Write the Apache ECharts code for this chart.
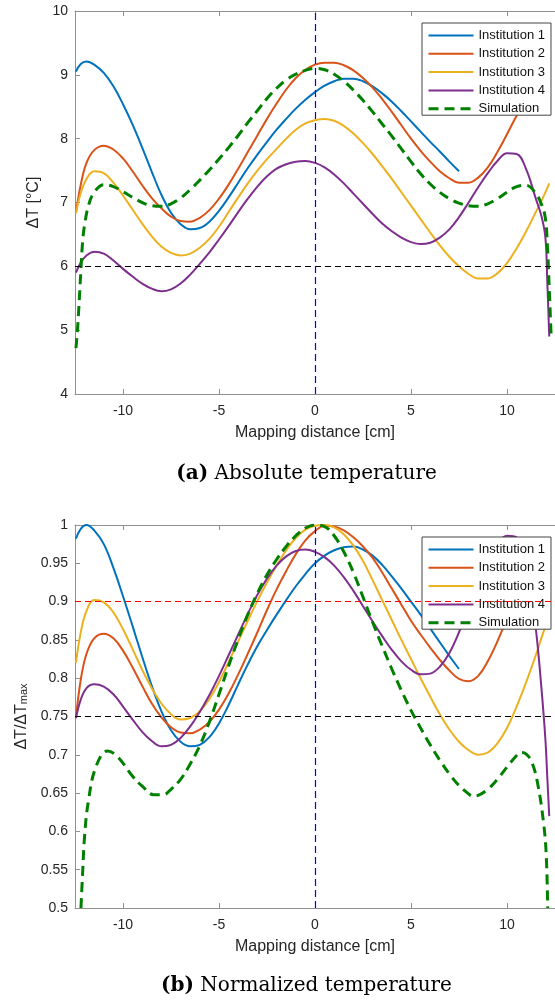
<!DOCTYPE html>
<html>
<head>
<meta charset="utf-8">
<title>Temperature mapping</title>
<script src="https://cdn.jsdelivr.net/npm/echarts@6/dist/echarts.min.js"></script>
<style>
  html, body { margin: 0; padding: 0; background: #fff; }
  #chart { width: 555px; height: 1000px; }
</style>
</head>
<body>
<div id="chart"></div>
<script>
var xInst = [-12.45, -12.2, -11.9, -11.5, -11, -10.5, -10, -9.5, -9, -8.5, -8, -7.5, -7, -6.5, -6, -5.5, -5, -4.5, -4, -3.5,
  -3, -2.5, -2, -1.5, -1, -0.5, 0, 0.5, 1, 1.5, 2, 2.5, 3, 3.5, 4, 4.5, 5, 5.5, 6, 6.5,
  7, 7.5, 8, 8.5, 9, 9.5, 10, 10.5, 11, 11.5, 11.8, 12, 12.1, 12.2];

// (a) absolute temperature, degC
var inst1Abs = [9.05, 9.17, 9.21, 9.16, 9.03, 8.82, 8.54, 8.22, 7.86, 7.48, 7.12, 6.84, 6.66, 6.58, 6.60, 6.70, 6.87, 7.08, 7.31, 7.54,
  7.75, 7.95, 8.14, 8.31, 8.47, 8.61, 8.73, 8.83, 8.90, 8.94, 8.94, 8.90, 8.82, 8.71, 8.58, 8.43, 8.27, 8.11, 7.95, 7.80,
  7.64, 7.49];
var inst2Abs = [6.84, 7.28, 7.62, 7.82, 7.89, 7.83, 7.69, 7.49, 7.27, 7.07, 6.91, 6.78, 6.71, 6.70, 6.76, 6.88, 7.06, 7.28, 7.53, 7.79,
  8.05, 8.31, 8.55, 8.77, 8.95, 9.08, 9.16, 9.19, 9.19, 9.15, 9.07, 8.95, 8.80, 8.62, 8.42, 8.21, 8.00, 7.81, 7.64, 7.49,
  7.38, 7.31, 7.31, 7.39, 7.55, 7.79, 8.07, 8.36, 8.61, 8.78, 8.83, 8.82, 8.80, 8.78];
var inst3Abs = [6.83, 7.15, 7.37, 7.49, 7.46, 7.31, 7.11, 6.89, 6.67, 6.47, 6.31, 6.21, 6.17, 6.20, 6.29, 6.43, 6.62, 6.85, 7.08, 7.30,
  7.50, 7.68, 7.84, 8.00, 8.14, 8.24, 8.29, 8.31, 8.28, 8.20, 8.08, 7.93, 7.76, 7.57, 7.37, 7.16, 6.95, 6.74, 6.53, 6.33,
  6.15, 6.00, 5.88, 5.81, 5.81, 5.89, 6.05, 6.28, 6.55, 6.85, 7.03, 7.16, 7.23, 7.30];
var inst4Abs = [5.90, 6.06, 6.17, 6.23, 6.20, 6.09, 5.96, 5.84, 5.73, 5.65, 5.61, 5.64, 5.73, 5.87, 6.04, 6.22, 6.42, 6.63, 6.85, 7.06,
  7.25, 7.41, 7.53, 7.60, 7.64, 7.65, 7.62, 7.55, 7.44, 7.30, 7.14, 6.98, 6.82, 6.67, 6.55, 6.45, 6.38, 6.35, 6.37, 6.45,
  6.58, 6.77, 7.00, 7.24, 7.46, 7.65, 7.77, 7.76, 7.52, 7.06, 6.78, 6.45, 5.75, 4.90];

var xSimAbs = [-12.45, -12.35, -12.2, -12.1, -12.0, -11.8, -11.5, -11, -10.5, -10, -9.5, -9, -8.5, -8, -7.5, -7, -6.5, -6, -5.5, -5,
  -4.5, -4, -3.5, -3, -2.5, -2, -1.5, -1, -0.5, 0, 0.5, 1, 1.5, 2, 2.5, 3, 3.5, 4, 4.5, 5,
  5.5, 6, 6.5, 7, 7.5, 8, 8.5, 9, 9.5, 10, 10.5, 11, 11.5, 11.8, 12.0, 12.1, 12.2, 12.3];
var simAbs = [4.72, 5.10, 5.90, 6.40, 6.65, 6.95, 7.16, 7.28, 7.25, 7.17, 7.08, 7.00, 6.95, 6.94, 6.98, 7.07, 7.20, 7.35, 7.51, 7.68,
  7.86, 8.05, 8.25, 8.44, 8.63, 8.79, 8.92, 9.01, 9.07, 9.10, 9.08, 9.01, 8.90, 8.76, 8.60, 8.42, 8.23, 8.04, 7.84, 7.64,
  7.45, 7.29, 7.16, 7.06, 6.99, 6.95, 6.94, 6.98, 7.06, 7.16, 7.25, 7.27, 7.14, 6.97, 6.75, 6.35, 5.65, 4.90];

// (b) normalized temperature
var inst1Norm = [0.982, 0.995, 1.000, 0.993, 0.975, 0.944, 0.907, 0.868, 0.828, 0.790, 0.757, 0.732, 0.717, 0.711, 0.713, 0.723, 0.741, 0.765, 0.792, 0.818,
  0.842, 0.863, 0.883, 0.902, 0.920, 0.936, 0.950, 0.960, 0.967, 0.971, 0.972, 0.968, 0.960, 0.948, 0.933, 0.917, 0.900, 0.883, 0.865, 0.847,
  0.829, 0.812];
var inst2Norm = [0.748, 0.798, 0.832, 0.852, 0.858, 0.852, 0.836, 0.814, 0.790, 0.767, 0.749, 0.736, 0.729, 0.728, 0.733, 0.743, 0.759, 0.780, 0.805, 0.832,
  0.860, 0.889, 0.916, 0.940, 0.962, 0.980, 0.992, 0.999, 0.998, 0.993, 0.984, 0.972, 0.957, 0.938, 0.917, 0.896, 0.875, 0.857, 0.840, 0.824,
  0.810, 0.799, 0.796, 0.803, 0.822, 0.848, 0.878, 0.908, 0.936, 0.955, 0.961, 0.960, 0.958, 0.955];
var inst3Norm = [0.820, 0.860, 0.888, 0.902, 0.899, 0.886, 0.864, 0.838, 0.811, 0.787, 0.767, 0.753, 0.746, 0.748, 0.757, 0.773, 0.795, 0.821, 0.848, 0.875,
  0.901, 0.925, 0.947, 0.967, 0.983, 0.994, 0.999, 1.000, 0.997, 0.988, 0.973, 0.953, 0.928, 0.902, 0.876, 0.850, 0.825, 0.800, 0.776, 0.753,
  0.733, 0.717, 0.706, 0.700, 0.703, 0.715, 0.735, 0.763, 0.795, 0.830, 0.853, 0.868, 0.876, 0.883];
var inst4Norm = [0.748, 0.772, 0.787, 0.792, 0.789, 0.779, 0.763, 0.746, 0.730, 0.718, 0.711, 0.713, 0.722, 0.737, 0.756, 0.778, 0.803, 0.830, 0.857, 0.884,
  0.909, 0.930, 0.947, 0.959, 0.966, 0.968, 0.965, 0.958, 0.947, 0.932, 0.914, 0.894, 0.874, 0.855, 0.837, 0.822, 0.811, 0.805, 0.806, 0.815,
  0.833, 0.860, 0.892, 0.925, 0.954, 0.975, 0.986, 0.984, 0.958, 0.865, 0.785, 0.720, 0.670, 0.620];

var xSimNorm = [-12.19, -12.1, -12.0, -11.8, -11.4, -10.8, -10.3, -9.5, -9, -8.4, -7.9, -7.5, -7, -6.5, -6, -5.5, -5, -4.5, -4, -3.5,
  -3, -2.5, -2, -1.5, -1, -0.5, 0, 0.5, 1, 1.5, 2, 2.5, 3, 3.5, 4, 4.5, 5, 5.5, 6, 6.5,
  7, 7.5, 8, 8.2, 8.5, 9, 9.5, 10, 10.5, 10.7, 11, 11.3, 11.6, 11.9, 12.04, 12.12];
var simNorm = [0.500, 0.547, 0.594, 0.640, 0.685, 0.705, 0.698, 0.672, 0.659, 0.648, 0.648, 0.655, 0.668, 0.688, 0.712, 0.743, 0.779, 0.816, 0.851, 0.883,
  0.911, 0.935, 0.955, 0.972, 0.986, 0.996, 1.000, 0.998, 0.986, 0.965, 0.938, 0.906, 0.873, 0.842, 0.812, 0.784, 0.758, 0.735, 0.713, 0.693,
  0.675, 0.660, 0.649, 0.646, 0.647, 0.655, 0.668, 0.684, 0.699, 0.703, 0.701, 0.690, 0.662, 0.612, 0.571, 0.500];

var xTicks = [-10, -5, 0, 5, 10];
var refAbs = [6];           // black dashed level in (a)
var refNormHigh = [0.9];    // red dashed level in (b)
var refNormLow = [0.75];    // black dashed level in (b)
var refX = [0];             // blue dashed centre line

var names = ['Institution 1', 'Institution 2', 'Institution 3', 'Institution 4', 'Simulation'];
var colors = ['#0072BD', '#D95319', '#EDB120', '#7E2F8E', '#008000'];

var sans = 'Liberation Sans, Arial, sans-serif';
var serif = 'DejaVu Serif, serif';

function pairs(xs, ys) {
  var out = [];
  for (var i = 0; i < xs.length; i++) {
    if (ys[i] != null) out.push([xs[i], ys[i]]);
  }
  return out;
}

function lineStyleFor(idx) {
  var sim = idx === 4;
  return {
    color: colors[idx],
    width: sim ? 3 : 2,
    type: sim ? [10, 6] : 'solid'
  };
}

function lineSeries(idx, data, xIdx, yIdx) {
  return {
    name: names[idx],
    type: 'line',
    xAxisIndex: xIdx,
    yAxisIndex: yIdx,
    smooth: 0.4,
    symbol: 'none',
    showSymbol: false,
    clip: true,
    lineStyle: lineStyleFor(idx),
    itemStyle: { color: colors[idx] },
    data: data
  };
}

function refLines(levels, col) {
  return levels.map(function (v) {
    return { yAxis: v, lineStyle: { color: col, type: [6, 4], width: 1.2 } };
  });
}
function refVert(col) {
  return refX.map(function (v) {
    return { xAxis: v, lineStyle: { color: col, type: [7, 4], width: 1.2 } };
  });
}

function xBottom(grid) {
  return {
    gridIndex: grid,
    type: 'value',
    position: 'bottom',
    min: -12.5,
    max: 12.5,
    name: 'Mapping distance [cm]',
    nameLocation: 'middle',
    nameGap: 31,
    nameTextStyle: { fontSize: 16, color: '#262626', fontFamily: sans },
    axisLine: { show: true, onZero: false, lineStyle: { color: '#909090', width: 1 } },
    axisTick: { show: true, inside: true, length: 5, customValues: xTicks, lineStyle: { color: '#909090' } },
    axisLabel: { customValues: xTicks, fontSize: 14, color: '#262626', fontFamily: sans, margin: 10 },
    splitLine: { show: false }
  };
}
function xTop(grid) {
  return {
    gridIndex: grid,
    type: 'value',
    position: 'top',
    min: -12.5,
    max: 12.5,
    axisLine: { show: true, onZero: false, lineStyle: { color: '#909090', width: 1 } },
    axisTick: { show: true, inside: true, length: 5, customValues: xTicks, lineStyle: { color: '#909090' } },
    axisLabel: { show: false },
    splitLine: { show: false }
  };
}

function legendAt(top) {
  return {
    orient: 'vertical',
    left: 422,
    top: top,
    data: names.map(function (n, i) {
      return { name: n, lineStyle: lineStyleFor(i) };
    }),
    itemWidth: 45,
    itemHeight: 13,
    itemGap: 5.3,
    padding: [6, 6, 0, 5],
    backgroundColor: '#fff',
    borderColor: '#444',
    borderWidth: 1,
    selectedMode: false,
    itemStyle: { opacity: 0 },   // line only, no marker in the key
    textStyle: { fontSize: 13, color: '#111', fontFamily: sans }
  };
}

var chart = echarts.init(document.getElementById('chart'), null, { renderer: 'canvas' });

var series = [
  lineSeries(0, pairs(xInst, inst1Abs), 0, 0),
  lineSeries(1, pairs(xInst, inst2Abs), 0, 0),
  lineSeries(2, pairs(xInst, inst3Abs), 0, 0),
  lineSeries(3, pairs(xInst, inst4Abs), 0, 0),
  lineSeries(4, pairs(xSimAbs, simAbs), 0, 0),
  lineSeries(0, pairs(xInst, inst1Norm), 2, 1),
  lineSeries(1, pairs(xInst, inst2Norm), 2, 1),
  lineSeries(2, pairs(xInst, inst3Norm), 2, 1),
  lineSeries(3, pairs(xInst, inst4Norm), 2, 1),
  lineSeries(4, pairs(xSimNorm, simNorm), 2, 1)
];

// dashed reference lines
series[4].markLine = {
  silent: true, symbol: ['none', 'none'], label: { show: false }, animation: false,
  data: refLines(refAbs, '#000').concat(refVert('#0000ff'))
};
series[9].markLine = {
  silent: true, symbol: ['none', 'none'], label: { show: false }, animation: false,
  data: refLines(refNormHigh, '#ff0000').concat(refLines(refNormLow, '#000')).concat(refVert('#0000ff'))
};

var option = {
  animation: false,
  backgroundColor: '#fff',
  textStyle: { fontFamily: sans },
  grid: [
    { left: 75, right: -5, top: 11, height: 383 },
    { left: 75, right: -5, top: 525, height: 383 }
  ],
  legend: [legendAt(23), legendAt(537)],
  xAxis: [xBottom(0), xTop(0), xBottom(1), xTop(1)],
  yAxis: [
    {
      gridIndex: 0, type: 'value', min: 4, max: 10, interval: 1,
      name: 'ΔT [°C]', nameLocation: 'middle', nameGap: 29,
      nameTextStyle: { fontSize: 16, color: '#262626', fontFamily: sans },
      axisLine: { show: true, onZero: false, lineStyle: { color: '#909090', width: 1 } },
      axisTick: { show: true, inside: true, length: 5, lineStyle: { color: '#909090' } },
      axisLabel: { fontSize: 14, color: '#262626', fontFamily: sans, margin: 7 },
      splitLine: { show: false }
    },
    {
      gridIndex: 1, type: 'value', min: 0.5, max: 1, interval: 0.05,
      name: '{a|ΔT/ΔT}{b|max}', nameLocation: 'middle', nameGap: 40,
      nameTextStyle: {
        fontSize: 16, color: '#262626', fontFamily: sans,
        rich: {
          a: { fontSize: 16, lineHeight: 16, verticalAlign: 'top', color: '#262626', fontFamily: sans },
          b: { fontSize: 11, lineHeight: 11, padding: [8, 0, 0, 0], verticalAlign: 'bottom', color: '#262626', fontFamily: sans }
        }
      },
      axisLine: { show: true, onZero: false, lineStyle: { color: '#909090', width: 1 } },
      axisTick: { show: true, inside: true, length: 5, lineStyle: { color: '#909090' } },
      axisLabel: { fontSize: 14, color: '#262626', fontFamily: sans, margin: 7 },
      splitLine: { show: false }
    }
  ],
  graphic: [
    {
      type: 'text', x: 306.5, y: 474,
      style: {
        text: '{b|(a)} Absolute temperature',
        fill: '#000', fontSize: 20, fontFamily: serif,
        align: 'center', verticalAlign: 'middle',
        rich: { b: { fontWeight: 'bold', fontSize: 20, fontFamily: serif, fill: '#000' } }
      }
    },
    {
      type: 'text', x: 306.5, y: 986,
      style: {
        text: '{b|(b)} Normalized temperature',
        fill: '#000', fontSize: 20, fontFamily: serif,
        align: 'center', verticalAlign: 'middle',
        rich: { b: { fontWeight: 'bold', fontSize: 20, fontFamily: serif, fill: '#000' } }
      }
    }
  ],
  series: series
};

chart.setOption(option);
</script>
</body>
</html>
